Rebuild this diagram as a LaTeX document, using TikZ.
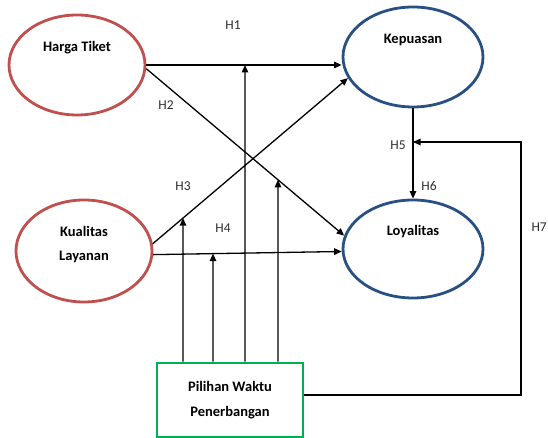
\documentclass[tikz,border=0pt]{standalone}
\usepackage{fontspec}
\setmainfont{Carlito}
\usetikzlibrary{shapes.geometric,arrows.meta,intersections}
\definecolor{exored}{RGB}{192,80,77}
\definecolor{endoblue}{RGB}{40,80,130}
\definecolor{modgreen}{RGB}{0,176,80}
\definecolor{hypgray}{RGB}{45,45,45}

\begin{document}
\begin{tikzpicture}[
  x=1pt, y=1pt,
  var/.style={ellipse,line width=2.8pt,minimum width=136pt,minimum height=100pt,inner sep=0pt},
  exo/.style={var,draw=exored},
  endo/.style={var,draw=endoblue,minimum width=140pt},
  mod/.style={rectangle,draw=modgreen,line width=2.8pt,minimum width=146pt,minimum height=74pt,align=center,font=\bfseries\fontsize{14.5}{25}\selectfont},
  vname/.style={font=\bfseries\fontsize{14.5}{24}\selectfont,align=center},
  hyp/.style={font=\fontsize{13.5}{16}\selectfont,text=hypgray},
  arr/.style={line width=1.3pt,-{Triangle[length=7.5pt,width=6.5pt]}}
]
  \useasboundingbox (0,0) rectangle (548,438);
  \node[exo,label={[vname,yshift=17pt]center:Harga Tiket}] (ht) at (77,373) {};
  \node[exo,minimum height=102pt,label={[vname,yshift=6pt]center:Kualitas\\Layanan}] (kl) at (84,187) {};
  \node[endo,label={[vname,yshift=17pt]center:Kepuasan}] (kp) at (413,381) {};
  \node[endo,minimum height=98pt,label={[vname,yshift=17pt]center:Loyalitas}] (ly) at (413,189) {};
  \node[mod] (pw) at (230,38) {Pilihan Waktu\\Penerbangan};

  \draw[arr,name path=h1] (ht.east) -- (ht.east -| kp.west);
  \draw[arr,name path=h2] (ht.-3) -- (ly.169);
  \draw[arr,name path=h3] (kl.6) -- (kp.198);
  \draw[arr,name path=h4] (kl.-3) -- (ly.182);
  \draw[arr] (kp.south) -- (ly.north);

  \coordinate (s1) at ([xshift=-47pt]pw.north);
  \coordinate (s2) at ([xshift=-17pt]pw.north);
  \coordinate (s3) at ([xshift=15pt]pw.north);
  \coordinate (s4) at ([xshift=48pt]pw.north);
  \path[name path=u1] (s1) -- +(0,300);
  \path[name path=u2] (s2) -- +(0,300);
  \path[name path=u3] (s3) -- +(0,330);
  \path[name path=u4] (s4) -- +(0,300);
  \path[name intersections={of=h3 and u1,by=t1}];
  \path[name intersections={of=h4 and u2,by=t2}];
  \path[name intersections={of=h1 and u3,by=t3}];
  \path[name intersections={of=h2 and u4,by=t4}];
  \draw[arr] (s1) -- (t1);
  \draw[arr] (s2) -- (t2);
  \draw[arr] (s3) -- (t3);
  \draw[arr] (s4) -- (t4);

  \coordinate (c7) at (521,296);
  \draw[arr] ([yshift=5pt]pw.east) -| (c7) -- (c7 -| kp.south);

  \node[hyp] (l1) at (233,413) {H1};
  \node[hyp] (l2) at (166,333) {H2};
  \node[hyp] (l3) at (183,252) {H3};
  \node[hyp] (l4) at (223,210) {H4};
  \node[hyp] (l5) at (398,293) {H5};
  \node[hyp] (l6) at (429,252) {H6};
  \node[hyp,anchor=east,inner xsep=1pt] (l7) at (548,211) {H7};
\end{tikzpicture}
\end{document}
